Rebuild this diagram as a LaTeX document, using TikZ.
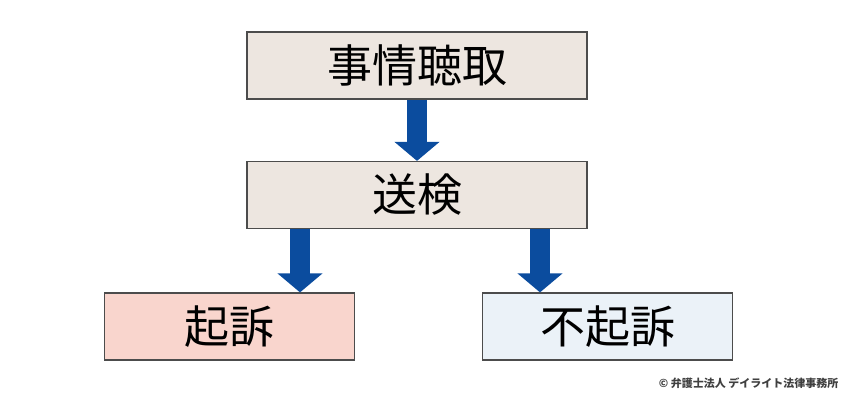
\documentclass[tikz,border=0pt]{standalone}
\usepackage{fontspec}
\setmainfont{Noto Sans CJK JP}
\usepackage{tikz}
\usetikzlibrary{positioning,arrows.meta}

\definecolor{boxbeige}{HTML}{EDE6E0}
\definecolor{boxpink}{HTML}{F9D5CD}
\definecolor{boxblue}{HTML}{EBF2F8}
\definecolor{arrowblue}{HTML}{0B4C9E}

\tikzset{
  stagebox/.style={draw=black!70, line width=1.2bp, minimum height=67bp,
    inner sep=0pt, font=\fontsize{45bp}{54bp}\selectfont},
  bigarrow/.style={draw=arrowblue, line width=20bp,
    -{Triangle[width=44bp,length=19bp]}}
}

\begin{document}
\begin{tikzpicture}[x=1bp, y=-1bp]

\useasboundingbox (0,0) rectangle (850,401);

% 
\node[stagebox, fill=boxbeige, minimum width=340bp] (jijo) at (417,65.5) {\raisebox{-3bp}{事情聴取}};
\node[stagebox, fill=boxbeige, minimum width=340bp] (soken) at (417,195) {\raisebox{-3bp}{送検}};
\node[stagebox, fill=boxpink, minimum width=250bp] (kiso) at (229.5,326.5) {\raisebox{-3bp}{起訴}};
\node[stagebox, fill=boxblue, minimum width=250bp] (fukiso) at (607.5,326.5) {\raisebox{-3bp}{不起訴}};

% 
\coordinate (lout) at (300,229);
\coordinate (rout) at (540,229);

% 
\draw[bigarrow] (jijo.south) -- (soken.north);
\draw[bigarrow] (lout) -- (lout |- kiso.north);
\draw[bigarrow] (rout) -- (rout |- fukiso.north);

% 
\node[font=\fontsize{11bp}{13bp}\selectfont\bfseries, text=black!75, anchor=east] (credit) at (842,383) {© 弁護士法人 デイライト法律事務所};

\end{tikzpicture}
\end{document}
